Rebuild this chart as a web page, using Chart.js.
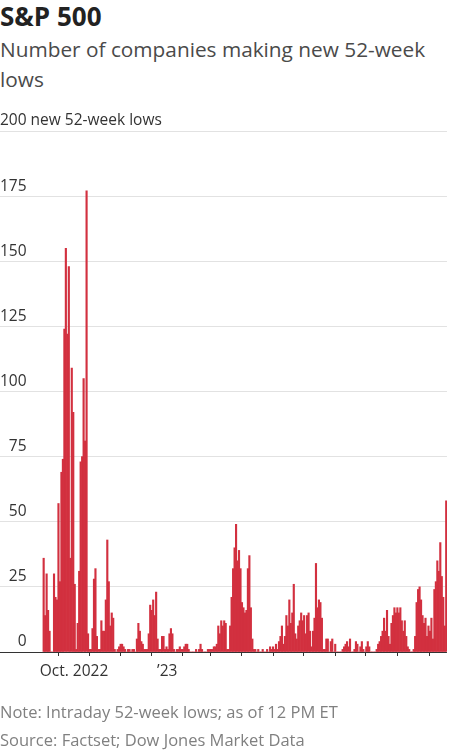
<!DOCTYPE html>
<html>
<head>
<meta charset="utf-8">
<script src="https://cdn.jsdelivr.net/npm/chart.js@4/dist/chart.umd.min.js"></script>
<style>
html,body{margin:0;padding:0;background:#fff;}
body{width:450px;height:750px;position:relative;overflow:hidden;font-family:"Open Sans","Noto Sans",sans-serif;}
#title{position:absolute;left:0;top:-1px;font-size:26px;font-weight:700;color:#222;line-height:34px;white-space:nowrap;}
#sub{position:absolute;left:0;top:34px;font-size:20.8px;color:#4a4a4a;line-height:30px;width:445px;}
#wrap{position:absolute;left:0;top:0;width:450px;height:700px;}
#foot{position:absolute;left:0;top:698px;font-size:16.5px;color:#808080;line-height:27.5px;white-space:nowrap;}
</style>
</head>
<body>
<div id="title">S&amp;P 500</div>
<div id="sub">Number of companies making new 52-week lows</div>
<div id="wrap"><canvas id="c"></canvas></div>
<div id="foot">Note: Intraday 52-week lows; as of 12 PM ET<br>Source: Factset; Dow Jones Market Data</div>
<script>
// Daily number of S&P 500 companies making new 52-week lows, grouped by month (trading days)
const sep22 = [36, 14, 30, 16, 8, 0, 0, 30, 21, 20, 57, 27, 69, 74, 124, 155, 122, 148, 36, 109, 92];
const oct22 = [26, 1, 11, 31, 73, 75, 105, 81, 177, 7, 1, 1, 9, 28, 32, 6, 1, 1, 12, 8, 8];
const nov22 = [20, 43, 27, 10, 15, 13, 1, 0, 1, 2, 3, 3, 2, 1, 0, 1, 1, 0, 1, 1, 0];
const dec22 = [5, 11, 8, 4, 3, 1, 1, 1, 7, 18, 16, 20, 14, 23, 5, 1, 1, 6, 6, 1, 2];
const jan23 = [1, 7, 9, 7, 1, 0, 1, 1, 2, 1, 1, 2, 3, 3, 1, 0, 0, 0, 0, 1];
const feb23 = [0, 1, 3, 1, 0, 0, 0, 1, 1, 1, 1, 2, 2, 3, 10, 7, 12, 10, 12];
const mar23 = [11, 1, 1, 10, 21, 32, 40, 49, 35, 39, 32, 19, 17, 15, 16, 32, 37, 17, 5, 1, 1, 0, 1];
const apr23 = [0, 0, 1, 0, 0, 1, 0, 2, 1, 2, 1, 3, 1, 4, 6, 10, 3, 6, 14];
const may23 = [10, 20, 11, 15, 26, 7, 5, 10, 12, 15, 12, 14, 7, 14, 15, 8, 2, 8, 13, 34, 17, 20];
const jun23 = [19, 13, 1, 1, 5, 5, 0, 4, 5, 0, 3, 0, 0, 0, 0, 1, 2, 3, 4, 2, 5];
const jul23 = [0, 0, 1, 4, 3, 0, 2, 4, 1, 0, 2, 4, 2, 0, 0, 0, 0, 1, 3, 4];
const aug23 = [6, 8, 13, 8, 16, 6, 3, 11, 14, 17, 15, 17, 15, 17, 12, 8, 12, 6, 2, 1, 0, 0, 1];
const sep23 = [6, 19, 24, 25, 20, 14, 11, 13, 6, 10, 8, 13, 5, 24, 27, 35, 31, 42, 29, 21];
const oct23 = [10, 58];

const months = [sep22, oct22, nov22, dec22, jan23, feb23, mar23, apr23, may23, jun23, jul23, aug23, sep23, oct23];
// label shown at each month's first day ('' = tick mark only, null = no tick)
const monthTickLabels = [null, 'Oct. 2022', '', '', '\u201923', '', '', '', '', '', '', '', '', ''];
const yTicks = [0, 25, 50, 75, 100, 125, 150, 175, 200];
const yUnit = 'new 52-week lows';

// build points and month ticks from the arrays
const points = [];
const tickPos = [];
const tickText = [];
let idx = 0;
months.forEach((m, mi) => {
  if (monthTickLabels[mi] !== null) { tickPos.push(idx - 0.5); tickText.push(monthTickLabels[mi]); }
  m.forEach(v => { points.push({x: idx, y: v}); idx++; });
});
const N = idx;
const LEAD = 29; // empty space before first trading day

const FONT = '"Open Sans","Noto Sans",sans-serif';

const unitPlugin = {
  id: 'unitLabel',
  afterDraw(chart) {
    const s = chart.scales.y;
    const ctx = chart.ctx;
    ctx.save();
    ctx.font = '15.5px ' + FONT;
    ctx.fillStyle = '#333';
    ctx.textAlign = 'left';
    ctx.textBaseline = 'middle';
    const w = ctx.measureText('200').width;
    ctx.fillText(' ' + yUnit, w, s.getPixelForValue(200) - 10);
    ctx.restore();
  }
};

new Chart(document.getElementById('c'), {
  type: 'bar',
  data: {
    datasets: [{
      data: points,
      backgroundColor: '#d2303f',
      borderWidth: 0,
      barPercentage: 1,
      categoryPercentage: 1
    }]
  },
  options: {
    responsive: true,
    maintainAspectRatio: false,
    animation: false,
    events: [],
    layout: { padding: { top: 131, left: 0, right: 0, bottom: 0 } },
    plugins: { legend: { display: false }, tooltip: { enabled: false } },
    scales: {
      x: {
        type: 'linear',
        min: -LEAD - 0.5,
        max: N - 0.5,
        offset: false,
        afterFit: s => { s.height = 48; },
        afterBuildTicks: s => { s.ticks = tickPos.map(v => ({ value: v })); },
        border: { display: false },
        grid: { drawOnChartArea: false, drawTicks: true, tickLength: 4, tickColor: '#333', color: '#333' },
        ticks: {
          autoSkip: false, maxRotation: 0, minRotation: 0, padding: 6,
          color: '#333', font: { family: FONT, size: 15.5 },
          callback: (v, i) => tickText[i]
        }
      },
      y: {
        min: 0,
        max: 200,
        afterFit: s => { s.width = 0; },
        afterBuildTicks: s => { s.ticks = yTicks.map(v => ({ value: v })); },
        border: { display: false },
        grid: {
          drawTicks: false,
          color: c => (c.tick && c.tick.value === 0) ? '#333' : '#e2e2e2',
          lineWidth: 1
        },
        ticks: {
          mirror: true, crossAlign: 'far', padding: 0, labelOffset: -10,
          color: '#333', font: { family: FONT, size: 15.5 },
          callback: v => String(v)
        }
      }
    }
  },
  plugins: [unitPlugin]
});
</script>
</body>
</html>
